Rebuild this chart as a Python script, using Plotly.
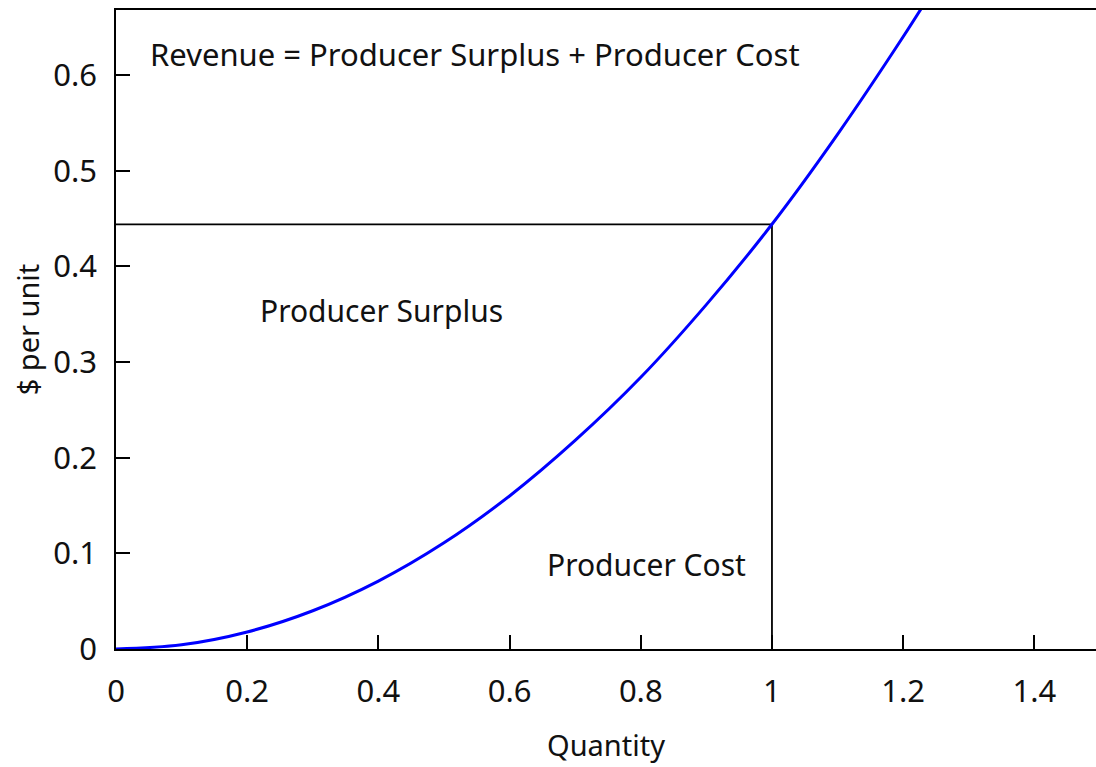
import plotly.graph_objects as go

# supply curve
quantity = [0, 0.1, 0.2, 0.3, 0.4, 0.5, 0.6, 0.7, 0.8, 0.9, 1.0, 1.1, 1.2, 1.25]
price = [0, 0.0044, 0.0178, 0.040, 0.071, 0.111, 0.160, 0.218, 0.284, 0.360, 0.444, 0.538, 0.640, 0.694]

# market point
q_star = 1.0
p_star = 0.444

labels = ["Revenue = Producer Surplus + Producer Cost", "Producer Surplus", "Producer Cost"]
label_x = [0.049, 0.216, 0.654]
label_y = [0.622, 0.354, 0.088]
label_size = [31, 30, 30]

x_ticks = [0, 0.2, 0.4, 0.6, 0.8, 1, 1.2, 1.4]
y_ticks = [0, 0.1, 0.2, 0.3, 0.4, 0.5, 0.6]

FONT = "Noto Sans"

fig = go.Figure()

# revenue rectangle edges
fig.add_trace(go.Scatter(x=[0, q_star], y=[p_star, p_star], mode="lines",
                         line=dict(color="black", width=1.8), showlegend=False))
fig.add_trace(go.Scatter(x=[q_star, q_star], y=[0, p_star], mode="lines",
                         line=dict(color="black", width=1.8), showlegend=False))

fig.add_trace(go.Scatter(x=quantity, y=price, mode="lines",
                         line=dict(color="#0000ff", width=3, shape="spline"),
                         showlegend=False))

for txt, lx, ly, sz in zip(labels, label_x, label_y, label_size):
    fig.add_annotation(x=lx, y=ly, text=txt, showarrow=False, xanchor="left",
                       yanchor="middle", font=dict(family=FONT, size=sz, color="#111"))

fig.update_layout(
    width=1096, height=767,
    margin=dict(l=116, r=0, t=10, b=118),
    plot_bgcolor="white", paper_bgcolor="white",
    font=dict(family=FONT, color="#111"),
)

fig.update_xaxes(
    range=[0, 1.494], tickvals=x_ticks, ticktext=[f"{v:g}" for v in x_ticks],
    ticks="inside", ticklen=14, tickwidth=1.5, tickcolor="black",
    showline=True, linecolor="black", linewidth=1.5, mirror=True,
    showgrid=False, zeroline=False, tickfont=dict(size=31),
    ticklabelstandoff=14,
    title=dict(text="Quantity", font=dict(size=29), standoff=26),
)
fig.update_yaxes(
    range=[0, 0.668], tickvals=y_ticks, ticktext=[f"{v:g}" for v in y_ticks],
    ticks="inside", ticklen=14, tickwidth=1.5, tickcolor="black",
    showline=True, linecolor="black", linewidth=1.5, mirror=False,
    showgrid=False, zeroline=False, tickfont=dict(size=31),
    ticklabelstandoff=11,
    title=dict(text="$ per unit", font=dict(size=29), standoff=5),
)

# drop the default page margin so the figure sits at the window origin
fig.write_html("out.html", config={"displayModeBar": False},
               post_script="document.body.style.margin='0px';")
